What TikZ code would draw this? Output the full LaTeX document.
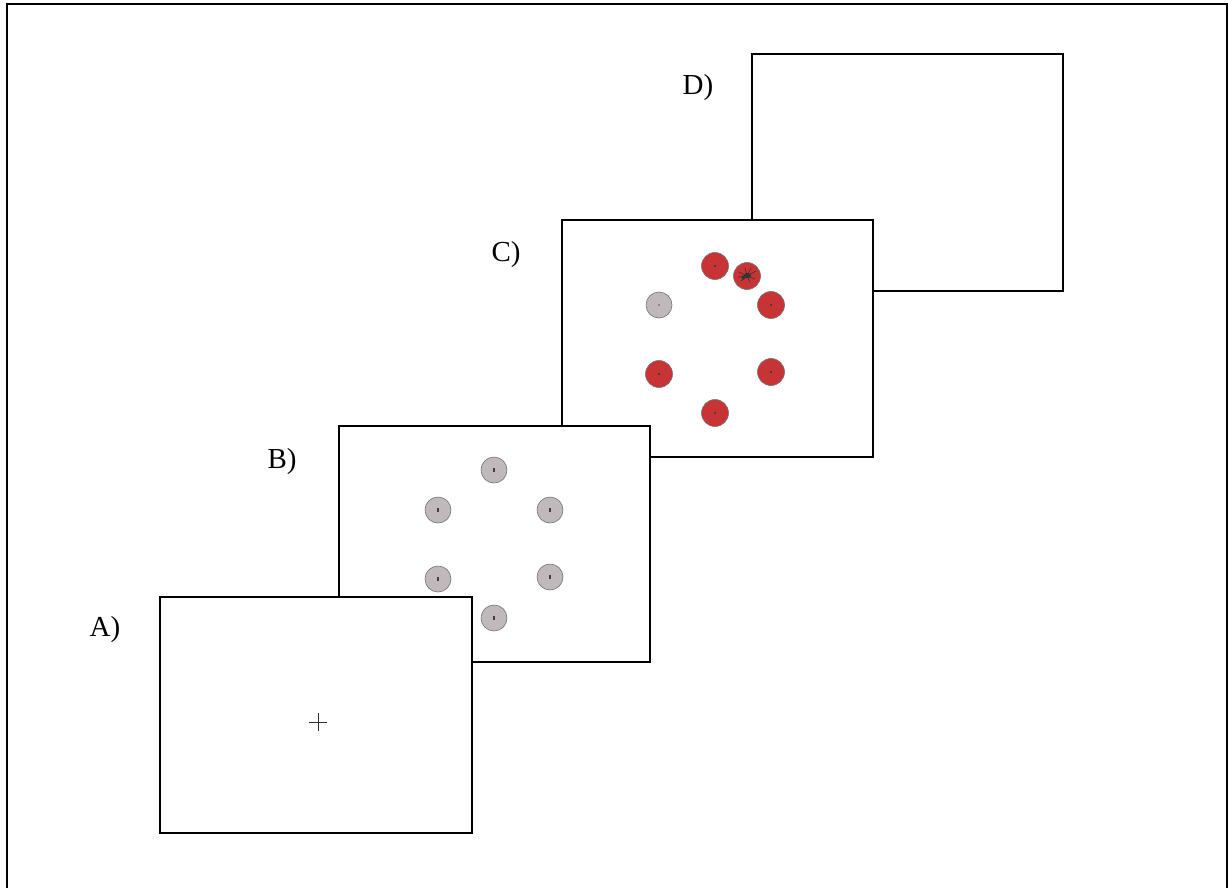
\documentclass[tikz,border=0pt]{standalone}
\usepackage{fontspec}
\setmainfont{Liberation Serif}
\begin{document}
\begin{tikzpicture}[x=1pt,y=-1pt,
  screen/.style={draw=black,fill=white,line width=1.4pt},
  lbl/.style={font=\fontsize{29}{33}\selectfont,inner sep=0pt},
  grayball/.style={circle,draw=black!55,line width=0.6pt,fill={rgb,255:red,192;green,184;blue,186},minimum size=26pt,inner sep=0pt},
  redball/.style={circle,draw=black!55,line width=0.6pt,fill={rgb,255:red,200;green,52;blue,54},minimum size=27pt,inner sep=0pt},
  pip/.style={fill=black!75,inner sep=0pt,minimum size=2pt}]
\useasboundingbox (0,0) rectangle (1228,887);
% outer frame
\draw[line width=2pt] (7,890) -- (7,4) -- (1227,4) -- (1227,890);
% screens, back to front
\draw[screen] (752,54) rectangle (1063,291);
\node[lbl] (d) at (698,88) {D)};
\draw[screen] (562,220) rectangle (873,457);
\node[lbl] (c) at (506,255) {C)};
\draw[screen] (339,426) rectangle (650,662);
\node[lbl] (b) at (282,462) {B)};
\draw[screen] (160,597) rectangle (472,833);
\node[lbl] (a) at (105,630) {A)};
% fixation cross
\node (fix) at (318,722) {};
\draw[line width=1pt,black!80] (309,722) -- (327,722) (318,713) -- (318,731);
% B: array of neutral stimuli
\foreach \n/\x/\y in {b1/494/470, b2/438/510, b3/550/510, b4/438/579, b5/550/577, b6/494/618}{
  \node[grayball] (\n) at (\x,\y) {};
  \node[pip,minimum width=2.5pt,minimum height=3.5pt] at (\n) {};
}
% C: array with one neutral and coloured stimuli
\node[grayball] (c1) at (659,305) {};
\node[pip,fill=black!45,minimum size=1.8pt] at (c1) {};
\foreach \n/\x/\y in {c2/715/266, c4/771/305, c5/659/374, c6/771/372, c7/715/413}{
  \node[redball] (\n) at (\x,\y) {};
  \node[pip,minimum size=1.8pt] at (\n) {};
}
\node[redball] (c3) at (747,276) {};
% spider on c3
\begin{scope}[shift={(747,276)},draw=black!80,line width=0.6pt]
  \fill[black!80] (0.5,-0.5) ellipse (3.5pt and 2.6pt);
  \fill[black!80] (-3.5,1.5) circle (2pt);
  \draw (0,0) -- (-8,-4) (0,0) -- (-6,5) (0,0) -- (4,-8) (0,0) -- (9,-5)
        (0,0) -- (8,3) (0,0) -- (3,6) (0,0) -- (-9,1) (0,0) -- (-2,-8);
\end{scope}
\end{tikzpicture}
\end{document}
